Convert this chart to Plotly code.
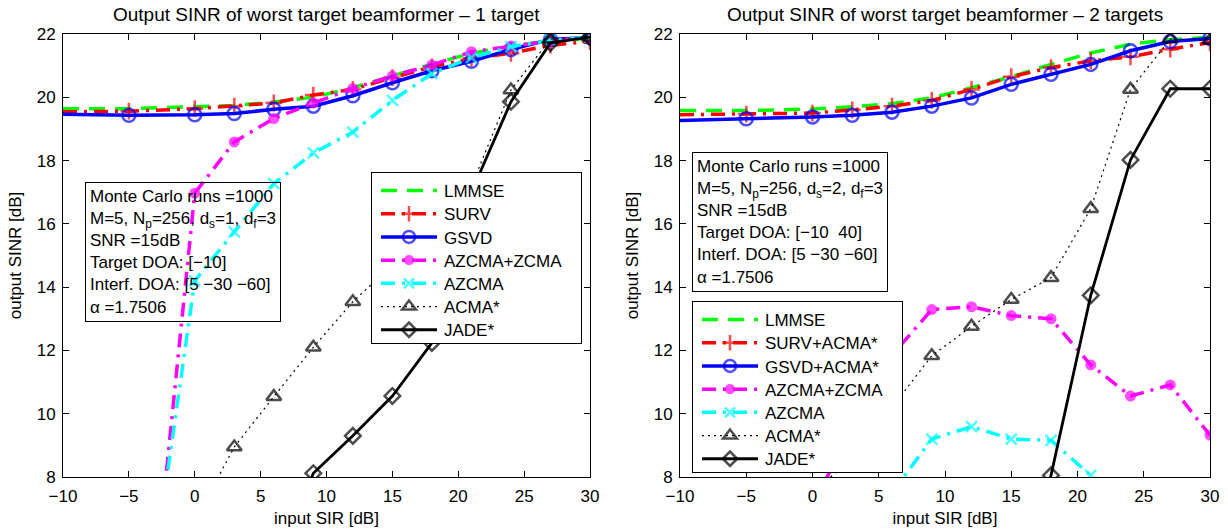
import plotly.graph_objects as go

# ---------------- data ----------------
sir = [-10, -5, 0, 3, 6, 9, 12, 15, 18, 21, 24, 27, 30]

# left panel: 1 target
lmmse_1 = [19.64, 19.64, 19.70, 19.74, 19.85, 20.00, 20.30, 20.67, 21.05, 21.39, 21.62, 21.79, 21.86]
surv_1 = [19.54, 19.56, 19.64, 19.72, 19.82, 20.07, 20.25, 20.62, 20.96, 21.23, 21.39, 21.65, 21.76]
gsvd_1 = [19.46, 19.43, 19.45, 19.49, 19.62, 19.72, 20.05, 20.46, 20.84, 21.14, 21.51, 21.83, 21.89]
azz_1 = [None, -3.5, 16.97, 18.59, 19.33, 19.82, 20.28, 20.67, 21.02, 21.44, 21.62, 21.78, 21.90]
az_1 = [None, -0.5, 14.20, 15.75, 17.27, 18.24, 18.90, 19.90, 20.75, 21.25, 21.60, 21.80, 21.90]
acma_1 = [None, None, 6.6, 8.95, 10.54, 12.10, 13.54, 14.70, 15.90, 17.20, 20.23, 21.84, 21.90]
jade_1 = [None, None, None, None, 5.0, 8.12, 9.30, 10.56, 12.24, 17.00, 19.86, 21.72, 21.90]

# right panel: 2 targets
lmmse_2 = [19.58, 19.58, 19.63, 19.70, 19.80, 19.98, 20.30, 20.65, 21.04, 21.40, 21.68, 21.82, 21.89]
surv_2 = [19.45, 19.47, 19.50, 19.60, 19.72, 19.90, 20.25, 20.65, 20.94, 21.15, 21.28, 21.52, 21.73]
gsvd_2 = [19.27, 19.32, 19.38, 19.43, 19.53, 19.72, 19.98, 20.41, 20.73, 21.04, 21.47, 21.76, 21.86]
azz_2 = [None, None, 7.0, 9.7, 11.85, 13.29, 13.38, 13.10, 13.00, 11.54, 10.56, 10.91, 9.32]
az_2 = [None, None, None, None, 7.5, 9.20, 9.59, 9.20, 9.16, 8.05, 6.5, None, None]
acma_2 = [None, None, 7.5, 8.6, 10.2, 11.83, 12.76, 13.61, 14.30, 16.48, 20.25, 21.84, 21.80]
jade_2 = [None, None, None, None, None, None, None, 4.0, 8.05, 13.74, 18.02, 20.27, 20.27]

names_1 = ["LMMSE", "SURV", "GSVD", "AZCMA+ZCMA", "AZCMA", "ACMA*", "JADE*"]
names_2 = ["LMMSE", "SURV+ACMA*", "GSVD+ACMA*", "AZCMA+ZCMA", "AZCMA", "ACMA*", "JADE*"]

titles = ["Output SINR of worst target beamformer \u2013 1 target",
          "Output SINR of worst target beamformer \u2013 2 targets"]
x_ticks = [-10, -5, 0, 5, 10, 15, 20, 25, 30]
y_ticks = [8, 10, 12, 14, 16, 18, 20, 22]

info_1 = ["Monte Carlo runs =1000", "M=5, N<sub>p</sub>=256, d<sub>s</sub>=1, d<sub>f</sub>=3",
          "SNR =15dB", "Target DOA: [\u221210]", "Interf. DOA: [5 \u221230 \u221260]", "\u03b1 =1.7506"]
info_2 = ["Monte Carlo runs =1000", "M=5, N<sub>p</sub>=256, d<sub>s</sub>=2, d<sub>f</sub>=3",
          "SNR =15dB", "Target DOA: [\u221210  40]", "Interf. DOA: [5 \u221230 \u221260]", "\u03b1 =1.7506"]

# ---------------- styles ----------------
FONT = "Liberation Sans, Arial, Helvetica, sans-serif"
TFS = 19   # titles
FS = 17    # ticks, axis titles, boxes
LFS = 17   # legend
DASH = "16px,10px"
DASHDOT = "14px,7px,3px,7px"
styles = [
    dict(color="#00ff00", dash=DASH, width=3.5, symbol=None, size=0, fill=False),
    dict(color="#ff0000", dash=DASHDOT, width=3.5, symbol="cross-thin-open", size=12, fill=False),
    dict(color="#0000ff", dash="solid", width=3.5, symbol="circle-open", size=13, fill=False),
    dict(color="#ff00ff", dash=DASHDOT, width=3.5, symbol="circle", size=11, fill=True),
    dict(color="#00ffff", dash=DASHDOT, width=3.5, symbol="x-thin-open", size=11, fill=False),
    dict(color="#000000", dash="2px,4px", width=1.2, symbol="triangle-up-open", size=13, fill=False),
    dict(color="#000000", dash="solid", width=2.8, symbol="diamond-open", size=12, fill=False),
]

fig = go.Figure()


def add_panel(series, names, xa, ya, legend):
    for y, name, st in zip(series, names, styles):
        sizes = [0 if v == sir[0] else st["size"] for v in sir]
        mk = dict(size=sizes, color=st["color"], line=dict(color=st["color"], width=2.5))
        if st["symbol"] is None:
            mode = "lines"
            mk = None
        else:
            mode = "lines+markers"
            mk["symbol"] = st["symbol"]
            if st["fill"]:
                mk["line"] = dict(width=0, color=st["color"])
        tr = go.Scatter(x=sir, y=y, name=name, mode=mode, xaxis=xa, yaxis=ya, legend=legend,
                        line=dict(color=st["color"], width=st["width"], dash=st["dash"]),
                        connectgaps=False, cliponaxis=True)
        if mk is not None:
            tr.marker = mk
        fig.add_trace(tr)


add_panel([lmmse_1, surv_1, gsvd_1, azz_1, az_1, acma_1, jade_1], names_1, "x", "y", "legend")
add_panel([lmmse_2, surv_2, gsvd_2, azz_2, az_2, acma_2, jade_2], names_2, "x2", "y2", "legend2")

W, H = 1228, 530
dom_x1 = [63 / W, 590 / W]
dom_x2 = [680 / W, 1210 / W]
dom_y = [1 - 477 / H, 1 - 34 / H]

axis_common = dict(showline=True, linecolor="black", linewidth=1, mirror="allticks",
                   ticks="inside", ticklen=6, tickcolor="black", showgrid=False, zeroline=False,
                   automargin=False,
                   tickfont=dict(size=FS, color="black", family=FONT))

xa = dict(axis_common, range=[-10, 30], tickvals=x_ticks, ticklabelstandoff=4,
          title=dict(text="input SIR [dB]", font=dict(size=FS, color="black", family=FONT), standoff=6))
ya = dict(axis_common, range=[8, 22], tickvals=y_ticks, ticklabelstandoff=3,
          title=dict(text="output SINR [dB]", font=dict(size=FS, color="black", family=FONT), standoff=10))

leg_common = dict(xanchor="left", yanchor="top", bordercolor="black", borderwidth=1, bgcolor="white",
                  font=dict(size=LFS, color="black", family=FONT), itemwidth=62, tracegroupgap=0)

fig.update_layout(
    width=W, height=H, margin=dict(l=0, r=0, t=0, b=0, autoexpand=False),
    paper_bgcolor="white", plot_bgcolor="white",
    font=dict(family=FONT, size=FS, color="black"),
    xaxis=dict(xa, domain=dom_x1, anchor="y"),
    yaxis=dict(ya, domain=dom_y, anchor="x"),
    xaxis2=dict(xa, domain=dom_x2, anchor="y2"),
    yaxis2=dict(ya, domain=dom_y, anchor="x2"),
    legend=dict(leg_common, x=371 / W, y=1 - 172 / H),
    legend2=dict(leg_common, x=692 / W, y=1 - 301 / H),
    showlegend=True,
)

for i, (t, dx) in enumerate(zip(titles, [dom_x1, dom_x2])):
    fig.add_annotation(text=t, xref="paper", yref="paper", x=(dx[0] + dx[1]) / 2, y=1 - 15 / H,
                       xanchor="center", yanchor="middle", showarrow=False,
                       font=dict(size=TFS, color="black", family=FONT))

for info, (px, py) in zip([info_1, info_2], [(85, 182), (692, 152)]):
    fig.add_annotation(text="<br>".join(info), xref="paper", yref="paper", x=px / W, y=1 - py / H,
                       xanchor="left", yanchor="top", align="left", showarrow=False,
                       bordercolor="black", borderwidth=1, borderpad=4, bgcolor="rgba(0,0,0,0)",
                       font=dict(size=FS, color="black", family=FONT))

# page margin reset and MATLAB-like legend geometry (long samples, tighter rows)
post = """
document.body.style.margin = '0';
var gd = document.querySelector('.plotly-graph-div');
var STEP = 23.2, LEGW = 210, TRIM = 5;
function parseT(el) {
  var m = /translate\\(\\s*([-\\d.e]+)[\\s,]+([-\\d.e]+)\\s*\\)/.exec(el.getAttribute('transform') || '');
  return m ? [parseFloat(m[1]), parseFloat(m[2])] : [0, 0];
}
function legendOf(t) {
  var g = t.parentNode;
  while (g && g !== gd) {
    var kids = g.children || [];
    for (var k = 0; k < kids.length; k++) {
      var c = kids[k];
      if (c.tagName && c.tagName.toLowerCase() === 'rect' && (' ' + (c.getAttribute('class') || '') + ' ').indexOf(' bg ') >= 0) {
        return g;
      }
    }
    g = g.parentNode;
  }
  return null;
}
function fixLegend() {
  var groups = [], members = [];
  gd.querySelectorAll('g.traces').forEach(function (t) {
    var lg = legendOf(t);
    if (!lg) return;
    var idx = groups.indexOf(lg);
    if (idx < 0) { groups.push(lg); members.push([]); idx = groups.length - 1; }
    members[idx].push(t);
  });
  groups.forEach(function (lg, gi) {
    var trs = members[gi];
    trs.forEach(function (tr) {
      tr.querySelectorAll('.legendlines path').forEach(function (p) { p.setAttribute('d', 'M9,0h56'); });
      tr.querySelectorAll('.legendpoints path').forEach(function (p) { p.setAttribute('transform', 'translate(37,0)'); });
    });
    var bg = null;
    for (var k = 0; k < lg.children.length; k++) {
      var c = lg.children[k];
      if (c.tagName.toLowerCase() === 'rect' && (c.getAttribute('class') || '').indexOf('bg') >= 0) { bg = c; break; }
    }
    if (bg) { bg.setAttribute('width', LEGW); }
    if (trs.length < 2) return;
    var pos = trs.map(parseT);
    var oldStep = pos[1][1] - pos[0][1];
    if (Math.abs(oldStep - STEP) < 0.01) return;
    trs.forEach(function (t, i) {
      t.setAttribute('transform', 'translate(' + pos[i][0] + ',' + (pos[0][1] + i * STEP) + ')');
    });
    if (bg) {
      var h = parseFloat(bg.getAttribute('height'));
      bg.setAttribute('height', h - (trs.length - 1) * (oldStep - STEP) - TRIM);
    }
  });
}
fixLegend();
if (gd.on) { gd.on('plotly_afterplot', fixLegend); }
"""
fig.write_html("out.html", post_script=post, config={"displayModeBar": False})
